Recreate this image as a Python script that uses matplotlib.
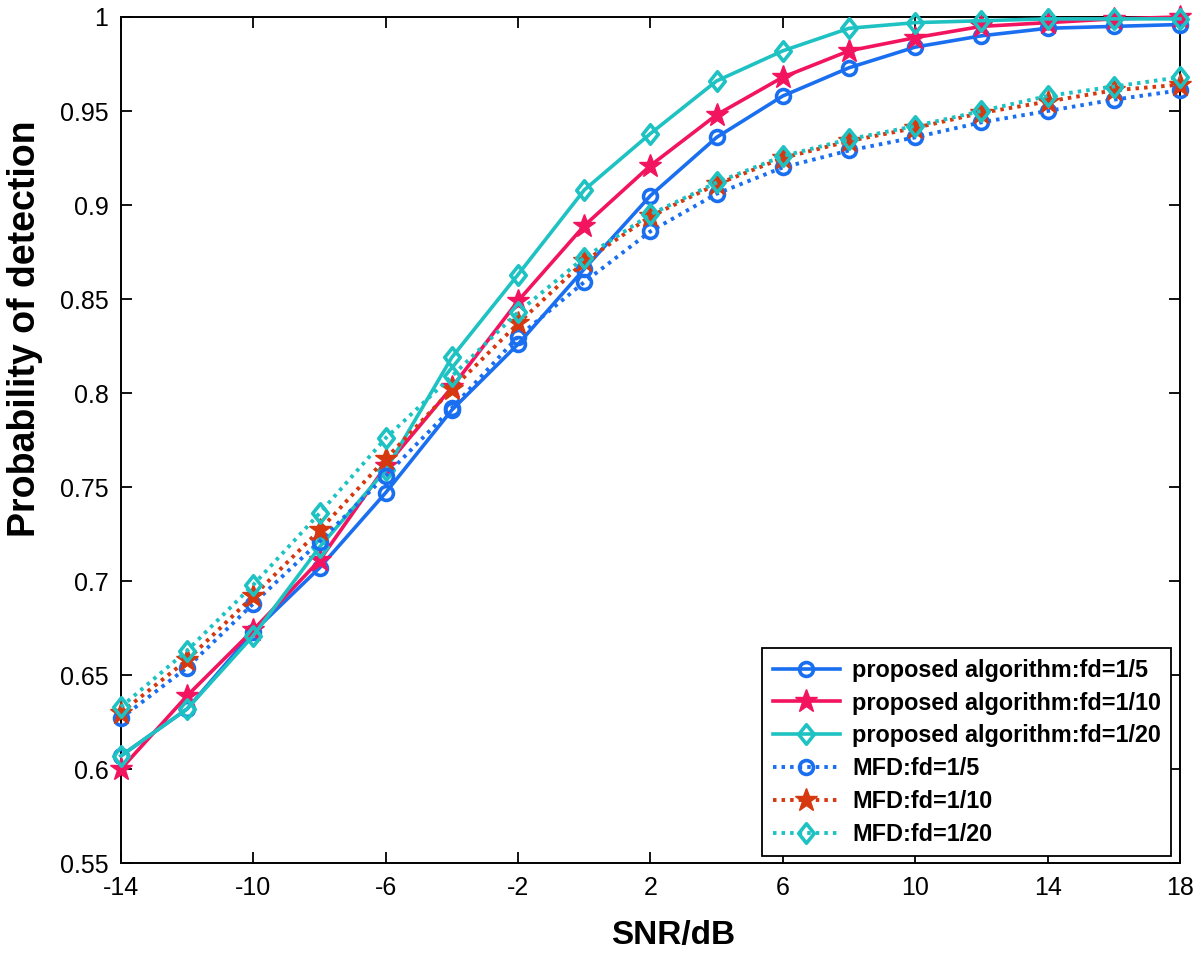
import matplotlib
matplotlib.use("Agg")
import matplotlib.pyplot as plt
from matplotlib.ticker import FuncFormatter
from matplotlib.path import Path

# SNR 取值（每 2 dB 一个点）
snr = [-14, -12, -10, -8, -6, -4, -2, 0, 2, 4, 6, 8, 10, 12, 14, 16, 18]

# proposed algorithm
prop_fd5 = [0.607, 0.632, 0.673, 0.707, 0.747, 0.791, 0.826, 0.866, 0.905, 0.936,
            0.958, 0.973, 0.984, 0.990, 0.994, 0.995, 0.996]
prop_fd10 = [0.600, 0.639, 0.674, 0.711, 0.761, 0.803, 0.849, 0.889, 0.921, 0.948,
             0.968, 0.982, 0.989, 0.995, 0.997, 0.999, 1.000]
prop_fd20 = [0.607, 0.632, 0.671, 0.718, 0.759, 0.819, 0.863, 0.908, 0.938, 0.966,
             0.982, 0.994, 0.997, 0.998, 0.999, 0.999, 0.999]

# MFD
mfd_fd5 = [0.627, 0.654, 0.688, 0.721, 0.756, 0.792, 0.830, 0.859, 0.886, 0.906,
           0.920, 0.929, 0.936, 0.944, 0.950, 0.956, 0.961]
mfd_fd10 = [0.630, 0.658, 0.692, 0.727, 0.765, 0.802, 0.837, 0.870, 0.894, 0.911,
            0.925, 0.934, 0.941, 0.949, 0.955, 0.961, 0.964]
mfd_fd20 = [0.633, 0.663, 0.698, 0.736, 0.776, 0.809, 0.843, 0.872, 0.895, 0.912,
            0.926, 0.935, 0.942, 0.950, 0.958, 0.963, 0.968]

labels = [
    "proposed algorithm:fd=1/5",
    "proposed algorithm:fd=1/10",
    "proposed algorithm:fd=1/20",
    "MFD:fd=1/5",
    "MFD:fd=1/10",
    "MFD:fd=1/20",
]

x_ticks = [-14, -10, -6, -2, 2, 6, 10, 14, 18]
y_ticks = [0.55, 0.6, 0.65, 0.7, 0.75, 0.8, 0.85, 0.9, 0.95, 1.0]

blue = "#1a6ff0"
pink = "#f2145f"
cyan = "#1ec2c2"
red = "#d6380f"
dots = (0, (0.9, 1.3))

# 略高于宽的菱形（MATLAB 'd' 的样子）
diamond = Path([(0, 1), (0.8, 0), (0, -1), (-0.8, 0), (0, 1)],
               [Path.MOVETO, Path.LINETO, Path.LINETO, Path.LINETO, Path.CLOSEPOLY])

plt.rcParams["font.family"] = ["Liberation Sans", "DejaVu Sans"]
plt.rcParams["axes.unicode_minus"] = False

fig = plt.figure(figsize=(12, 9.55), dpi=100)
ax = fig.add_axes([0.1008, 0.0963, 0.8825, 0.8859])

ax.plot(snr, prop_fd5, color=blue, lw=2.6, marker="o", ms=10, mfc="none",
        mew=2.6, label=labels[0], clip_on=False, zorder=3)
ax.plot(snr, prop_fd10, color=pink, lw=2.6, marker="*", ms=17, mfc=pink,
        mew=1.0, label=labels[1], clip_on=False, zorder=3)
ax.plot(snr, prop_fd20, color=cyan, lw=2.6, marker=diamond, ms=14, mfc="none",
        mew=2.6, label=labels[2], clip_on=False, zorder=3)
ax.plot(snr, mfd_fd5, color=blue, lw=2.8, ls=dots, marker="o", ms=10, mfc="none",
        mew=2.6, label=labels[3], clip_on=False, zorder=3)
ax.plot(snr, mfd_fd10, color=red, lw=2.8, ls=dots, marker="*", ms=17, mfc=red,
        mew=1.0, label=labels[4], clip_on=False, zorder=3)
ax.plot(snr, mfd_fd20, color=cyan, lw=2.8, ls=dots, marker=diamond, ms=14, mfc="none",
        mew=2.6, label=labels[5], clip_on=False, zorder=3)

ax.set_xlim(-14, 18)
ax.set_ylim(0.55, 1.0)
ax.set_xticks(x_ticks)
ax.set_yticks(y_ticks)
ax.yaxis.set_major_formatter(FuncFormatter(lambda v, p: f"{v:g}"))
ax.tick_params(direction="in", length=8, width=1.3, top=True, right=True,
               labelsize=18, pad=9)
for s in ax.spines.values():
    s.set_linewidth(1.4)

ax.set_xlabel("SNR/dB", fontweight="bold", fontsize=24)
ax.set_ylabel("Probability of detection", fontweight="bold", fontsize=27)
# 原图的坐标轴标题并不居中
ax.xaxis.set_label_coords(0.521, -0.067)
ax.yaxis.set_label_coords(-0.074, 0.632)

leg = ax.legend(loc="lower right", bbox_to_anchor=(0.992, 0.008), numpoints=1,
                handlelength=2.9, handletextpad=0.5, labelspacing=0.42,
                borderpad=0.45, borderaxespad=0, fancybox=False, framealpha=1,
                prop=dict(weight="bold", size=16.8))
leg.get_frame().set_edgecolor("black")
leg.get_frame().set_linewidth(1.3)

fig.savefig("out.png", dpi=100)
